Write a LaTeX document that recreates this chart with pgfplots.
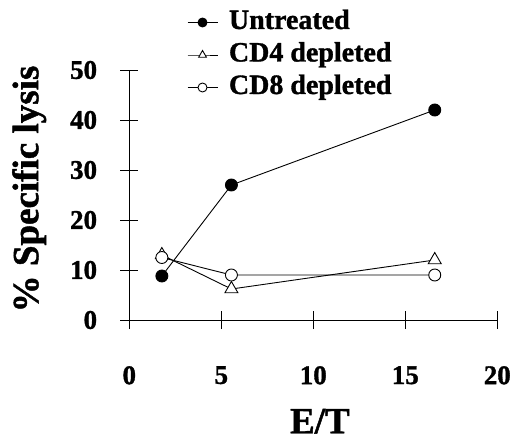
\documentclass[border=0pt]{standalone}
\usepackage{fontspec}
\setmainfont{Liberation Serif}[BoldFeatures={FakeBold=1.2}]
\usepackage{pgfplots}
\pgfplotsset{compat=1.18}
\begin{document}
\begin{tikzpicture}
\path[use as bounding box] (-129.3pt,-121pt) rectangle (388.7pt,320pt);
\begin{axis}[
  at={(0pt,0pt)}, anchor=south west,
  scale only axis, width=368pt, height=250pt,
  xmin=0, xmax=20, ymin=0, ymax=50,
  axis lines=left, axis line style={-, line width=0.9pt},
  xtick={0,5,10,15,20}, ytick={0,10,20,30,40,50},
  tick align=center, major tick length=18pt, tick style={line width=0.9pt, black},
  /pgf/number format/assume math mode=true,
  xticklabel style={font=\bfseries\fontsize{27}{27}\selectfont, anchor=north, inner sep=0pt, yshift=-37pt},
  yticklabel style={font=\bfseries\fontsize{27}{27}\selectfont, anchor=east, inner sep=0pt, xshift=-23pt},
  xlabel={E/T},
  xlabel style={at={(axis description cs:0.518,-0.405)}, anchor=center, font=\bfseries\fontsize{37}{37}\selectfont},
  ylabel={\% Specific lysis},
  ylabel style={at={(axis description cs:-0.272,0.524)}, anchor=center, font=\bfseries\fontsize{37}{37}\selectfont},
  legend style={at={(axis description cs:0.157,1.24)}, anchor=north west, draw=none, fill=none,
    inner sep=0pt, outer sep=0pt, row sep=7.5pt, column sep=11pt,
    font=\bfseries\fontsize{28}{28}\selectfont,
    nodes={inner sep=0pt, text height=19pt, text depth=6pt}},
  legend cell align=left,
  legend image code/.code={\draw[mark repeat=2,mark phase=2,#1,mark size=4.5pt] plot coordinates {(0pt,0pt)(15pt,0pt)(30pt,0pt)};},
  clip=false,
]
\addplot[black, line width=0.9pt, mark=*, mark size=6pt, mark options={fill=black}]
  coordinates {(1.77,8.8) (5.55,27) (16.6,42)};
\addlegendentry{Untreated}
\addplot[black, line width=0.9pt, mark=triangle*, mark size=7.5pt, mark options={fill=white}]
  coordinates {(1.77,13) (5.55,6.2) (16.6,12)};
\addlegendentry{CD4 depleted}
\addplot[black, line width=0.9pt, mark=*, mark size=6pt, mark options={fill=white}]
  coordinates {(1.77,12.5) (5.55,9) (16.6,9)};
\addlegendentry{CD8 depleted}
\end{axis}
\end{tikzpicture}
\end{document}
